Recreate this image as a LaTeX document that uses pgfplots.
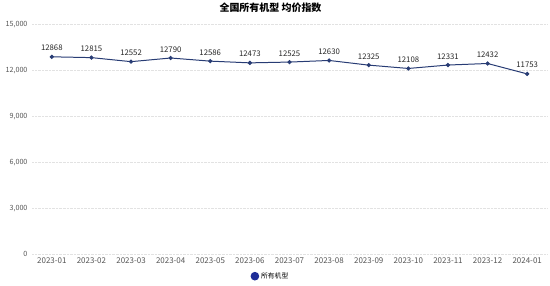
\documentclass[border=0pt]{standalone}
\usepackage{pgfplots}
\pgfplotsset{compat=1.18}
\usepackage{fontspec}
\setmainfont{Noto Sans CJK SC}
\definecolor{navy}{HTML}{283C74}
\definecolor{gridc}{HTML}{E2E2E2}
\definecolor{tickc}{HTML}{555555}
\begin{document}
\begin{tikzpicture}
\path (0,0) rectangle (550bp,281bp);
\begin{axis}[
  at={(32bp,31bp)}, anchor=south west,
  scale only axis, width=515bp, height=230bp,
  xmin=-0.5, xmax=12.5, ymin=0, ymax=15000,
  xtick={0,...,12},
  xticklabels={2023-01,2023-02,2023-03,2023-04,2023-05,2023-06,2023-07,2023-08,2023-09,2023-10,2023-11,2023-12,2024-01},
  ytick={0,3000,6000,9000,12000,15000},
  scaled y ticks=false,
  /pgf/number format/1000 sep={,},
  /pgf/number format/assume math mode=true,
  tick label style={text=tickc},
  xticklabel style={font=\fontsize{8}{9}\selectfont, yshift=-0.5bp},
  yticklabel style={font=\fontsize{7.2}{8}\selectfont, xshift=-1bp},
  ymajorgrids, grid style={gridc, densely dotted, line width=0.6pt},
  axis line style={draw=none},
  major tick length=0pt,
  title={\bfseries 全国所有机型 均价指数},
  title style={font=\fontsize{10}{11}\selectfont, at={(0.5,1)}, anchor=center, yshift=10bp, xshift=-19bp},
  legend style={at={(0.463,-0.096)}, anchor=center, draw=none, fill=none,
    font=\fontsize{6.8}{7}\selectfont, legend cell align=left},
  legend image code/.code={\fill[navy!75!blue] (0.18cm,0) circle (3.8bp);},
  nodes near coords, point meta=explicit symbolic,
  every node near coord/.append style={font=\fontsize{7.8}{8}\selectfont, text=black!85, yshift=2bp},
]
\addplot[navy, line width=1pt, mark=*, mark size=1.6pt, mark options={fill=navy}]
  table[meta=v] {
x y v
0 12868 12868
1 12815 12815
2 12552 12552
3 12790 12790
4 12586 12586
5 12473 12473
6 12525 12525
7 12630 12630
8 12325 12325
9 12108 12108
10 12331 12331
11 12432 12432
12 11753 11753
};
\addlegendentry{所有机型}
\end{axis}
\end{tikzpicture}
\end{document}
